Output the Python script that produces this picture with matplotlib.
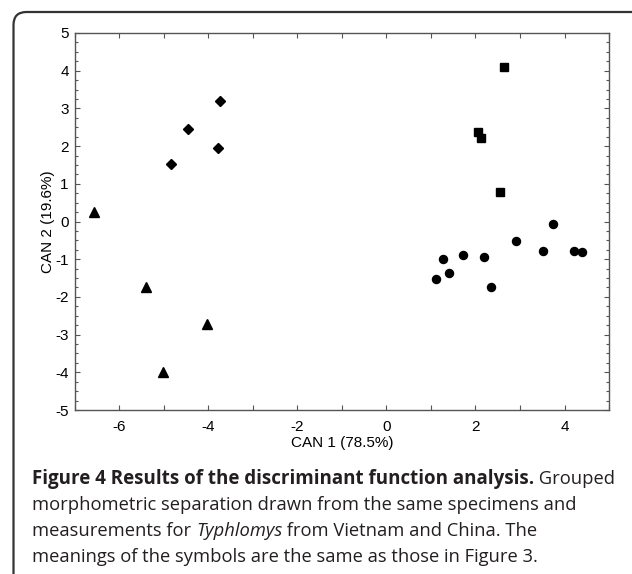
import matplotlib
matplotlib.use("Agg")
import matplotlib.pyplot as plt
from matplotlib.patches import FancyBboxPatch
from matplotlib.transforms import IdentityTransform
import numpy as np

plt.rcParams['font.family'] = ['Liberation Sans', 'DejaVu Sans']
plt.rcParams['axes.unicode_minus'] = False

# group scores (CAN 1, CAN 2)
circ_x = [3.75, 2.91, 3.52, 4.22, 4.39, 1.72, 2.18, 1.26, 1.40, 1.11, 2.34]
circ_y = [-0.06, -0.52, -0.77, -0.77, -0.80, -0.88, -0.94, -0.99, -1.37, -1.53, -1.73]
sq_x = [2.65, 2.06, 2.13, 2.55]
sq_y = [4.10, 2.37, 2.22, 0.77]
dia_x = [-3.74, -4.47, -3.79, -4.85]
dia_y = [3.20, 2.45, 1.94, 1.53]
tri_x = [-6.58, -5.41, -4.03, -5.02]
tri_y = [0.25, -1.73, -2.73, -3.99]

xlab = "CAN 1 (78.5%)"
ylab = "CAN 2 (19.6%)"
caption = [
    [("Figure 4 Results of the discriminant function analysis.", "bold", "normal"),
     (" Grouped", "normal", "normal")],
    [("morphometric separation drawn from the same specimens and", "normal", "normal")],
    [("measurements for ", "normal", "normal"), ("Typhlomys", "normal", "italic"),
     (" from Vietnam and China. The", "normal", "normal")],
    [("meanings of the symbols are the same as those in Figure 3.", "normal", "normal")],
]

W, H = 632, 574
fig = plt.figure(figsize=(W / 100, H / 100), dpi=100)

# rounded frame running off the right and bottom edge
frame = FancyBboxPatch((13.5, -30), 700, H - 12 + 30, boxstyle="round,pad=0,rounding_size=13",
                       transform=IdentityTransform(), fill=False, ec="#333333", lw=1.6)
fig.patches.append(frame)

ax = fig.add_axes([75 / W, 1 - 410 / H, (609 - 75) / W, (410 - 33) / H])
ax.plot(circ_x, circ_y, "o", color="black", ms=5.8)
ax.plot(sq_x, sq_y, "s", color="black", ms=5.8)
ax.plot(dia_x, dia_y, "D", color="black", ms=5.6)
ax.plot(tri_x, tri_y, "^", color="black", ms=7.2)

ax.set_xlim(-7, 5)
ax.set_ylim(-5, 5)
ax.set_xticks(np.arange(-6, 5, 2))
ax.set_xticks(np.arange(-7, 6, 1), minor=True)
ax.set_yticks(np.arange(-5, 6, 1))
ax.set_yticks(np.arange(-5, 5.01, 0.25), minor=True)

for s in ax.spines.values():
    s.set_color("#555555")
    s.set_linewidth(1.0)
ax.tick_params(which="both", direction="in", top=True, right=True, color="#555555",
               width=0.8, labelsize=11)
ax.tick_params(which="major", length=3.5)
ax.tick_params(which="minor", length=2)
ax.tick_params(axis="x", which="minor", length=3.5)
ax.tick_params(axis="x", pad=7)
ax.tick_params(axis="y", pad=4.5)
ax.set_xlabel(xlab, fontsize=11, labelpad=2)
ax.set_ylabel(ylab, fontsize=11, labelpad=0)

# caption, pieces laid out one after another
fig.canvas.draw()
r = fig.canvas.get_renderer()
base = [H - 484, H - 510, H - 536, H - 562]
for line, yb in zip(caption, base):
    x = 32
    for txt, wgt, sty in line:
        size = 13.5 if wgt == "bold" else 13.2
        t = fig.text(x / W, yb / H, txt, fontsize=size, family=["Open Sans", "DejaVu Sans"],
                     weight=wgt, style=sty, color="#231f20", va="baseline", ha="left")
        bb = t.get_window_extent(renderer=r)
        x = bb.x1

fig.savefig("out.png", dpi=100)
